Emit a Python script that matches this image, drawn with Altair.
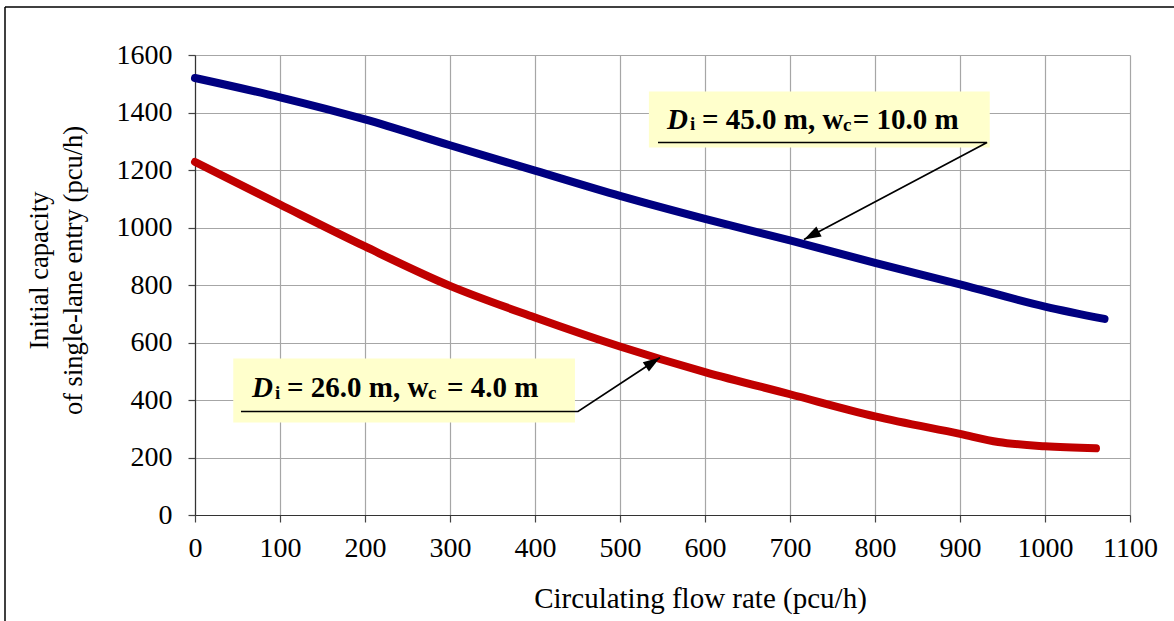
import math
import altair as alt
import pandas as pd

# ---------------- data ----------------
flow_blue = [0, 100, 200, 300, 400, 500, 600, 700, 800, 900, 1000, 1070]
cap_blue = [1520, 1453, 1376, 1286, 1198, 1110, 1030, 955, 877, 802, 725, 682]
flow_red = [0, 100, 200, 300, 400, 500, 600, 700, 800, 900, 945, 1000, 1060]
cap_red = [1228, 1080, 934, 797, 687, 586, 497, 420, 343, 282, 254, 239, 232]

series_names = ["Di = 45.0 m, wc = 10.0 m", "Di = 26.0 m, wc = 4.0 m"]
series_colors = ["#000080", "#C00000"]

x_ticks = list(range(0, 1101, 100))
y_ticks = list(range(0, 1601, 200))

# annotation boxes (data units)
box_x1 = [534, 45]
box_x2 = [935, 447]
box_y1 = [1278, 322]
box_y2 = [1473, 544]

# annotation text pieces (label 1 then label 2)
piece_text = ["D", "i", "= 45.0 m, w", "c", "= 10.0 m",
              "D", "i", "= 26.0 m, w", "c", "= 4.0 m"]
piece_x = [555.3, 582.4, 596.5, 762.4, 773.9,
           67.1, 94.1, 108.2, 274.1, 296.5]
piece_y = [1341, 1338, 1341, 1336, 1341,
           412, 403, 412, 402, 412]
piece_kind = ["ital", "sub", "main", "sub", "main"] * 2

# leader lines (underline + arrow), data units
lead_x = [544.7, 931.8, 716.5, 54.1, 450.6, 547.1]
lead_y = [1295.7, 1295.7, 958.3, 360, 360, 547.8]
lead_id = [0, 0, 0, 1, 1, 1]
lead_ord = [0, 1, 2, 0, 1, 2]

W, H = 935, 460
X_MAX, Y_MAX = 1100, 1600
FONT = "Liberation Serif"

# ---------------- tables ----------------
curves = pd.concat([
    pd.DataFrame({"flow": flow_blue, "cap": cap_blue, "series": series_names[0]}),
    pd.DataFrame({"flow": flow_red, "cap": cap_red, "series": series_names[1]}),
])
boxes = pd.DataFrame({"x1": box_x1, "x2": box_x2, "y1": box_y1, "y2": box_y2})
pieces = pd.DataFrame({"t": piece_text, "x": piece_x, "y": piece_y, "k": piece_kind})
leads = pd.DataFrame({"x": lead_x, "y": lead_y, "g": lead_id, "o": lead_ord})

tips = []
for g in sorted(set(lead_id)):
    pts = leads[leads.g == g].sort_values("o")
    (x0, y0), (x1, y1) = pts[["x", "y"]].values[-2], pts[["x", "y"]].values[-1]
    dx = (x1 - x0) * W / X_MAX
    dy = -(y1 - y0) * H / Y_MAX
    ang = math.degrees(math.atan2(dx, -dy)) % 360
    tips.append({"x": x1, "y": y1, "ang": ang})
tips = pd.DataFrame(tips)

xs = alt.Scale(domain=[0, X_MAX], nice=False, zero=False)
ys = alt.Scale(domain=[0, Y_MAX], nice=False)

x_axis = alt.Axis(values=x_ticks, grid=True, title="Circulating flow rate (pcu/h)",
                  titleX=505, titleY=92, titleAlign="center", titleBaseline="alphabetic",
                  titleFontSize=29, labelPadding=12, labelOverlap=False,
                  labelFlush=False, format="d")
y_axis = alt.Axis(values=y_ticks, grid=True,
                  title=["Initial capacity", "of single-lane entry (pcu/h)"],
                  titleX=-148, titleY=215, titleAlign="center", titleBaseline="alphabetic",
                  titleAngle=270, titleLineHeight=34, titleFontSize=26.5,
                  labelPadding=16, labelOverlap=False, labelFlush=False, format="d")

lines = alt.Chart(curves).mark_line(strokeWidth=8, strokeCap="round",
                                    strokeJoin="round", interpolate="monotone").encode(
    x=alt.X("flow:Q", scale=xs, axis=x_axis),
    y=alt.Y("cap:Q", scale=ys, axis=y_axis),
    color=alt.Color("series:N", scale=alt.Scale(domain=series_names, range=series_colors),
                    legend=None),
)

rects = alt.Chart(boxes).mark_rect(fill="#FFFFCC").encode(
    x="x1:Q", x2="x2:Q", y="y1:Q", y2="y2:Q")

def text_layer(kind, size, style):
    return alt.Chart(pieces).transform_filter(alt.datum.k == kind).mark_text(
        font=FONT, fontSize=size, fontWeight="bold", fontStyle=style,
        align="left", baseline="alphabetic", color="black").encode(
        x="x:Q", y="y:Q", text="t:N")

t_ital = text_layer("ital", 29, "italic")
t_main = text_layer("main", 29, "normal")
t_sub = text_layer("sub", 19, "normal")

leader = alt.Chart(leads).mark_line(color="black", strokeWidth=1.7).encode(
    x="x:Q", y="y:Q", detail="g:N", order="o:Q")

heads = alt.Chart(tips).mark_point(shape="M0,0L-0.33,1L0.33,1Z", filled=True,
                                   color="black", opacity=1, size=1150).encode(
    x="x:Q", y="y:Q", angle=alt.Angle("ang:Q", scale=None))

frame_top = alt.Chart(pd.DataFrame({"a": [0]})).mark_rule(color="black", strokeWidth=1.5).encode(
    x=alt.value(-190), x2=alt.value(1174 - 195), y=alt.value(-48))
frame_left = alt.Chart(pd.DataFrame({"a": [0]})).mark_rule(color="black", strokeWidth=1.5).encode(
    x=alt.value(-190), y=alt.value(-48), y2=alt.value(621 - 55))

chart = alt.layer(rects, lines, leader, heads, t_ital, t_main, t_sub,
                  frame_top, frame_left).properties(
    width=W, height=H,
    autosize=alt.AutoSizeParams(type="none"),
    padding={"left": 195, "top": 55, "right": 1174 - 195 - W, "bottom": 621 - 55 - H},
    background="white",
).configure_view(stroke=None).configure_axis(
    labelFont=FONT, labelFontSize=28, labelColor="black",
    titleFont=FONT, titleFontWeight="normal", titleColor="black",
    gridColor="#A6A6A6", gridWidth=1.2, gridOpacity=1,
    tickColor="#444444", tickSize=7, tickWidth=1.2,
    domainColor="#333333", domainWidth=1.2,
)

chart.save("out.html", embed_options={"renderer": "svg", "actions": False})
